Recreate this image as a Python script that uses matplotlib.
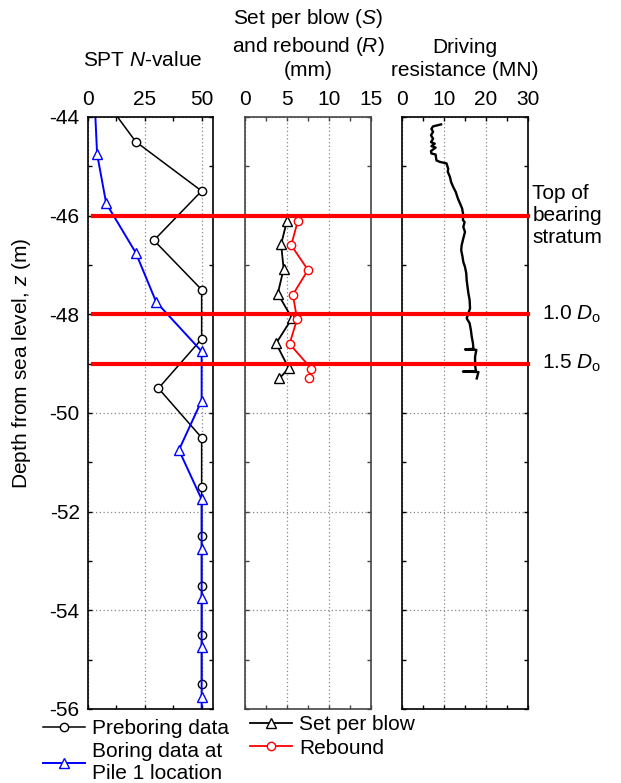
import matplotlib
matplotlib.use("Agg")
import matplotlib.pyplot as plt
from matplotlib.lines import Line2D
from matplotlib.ticker import MultipleLocator
import matplotlib.transforms as mtransforms

plt.rcParams['font.family'] = ['Liberation Sans', 'DejaVu Sans']
plt.rcParams['font.size'] = 15
plt.rcParams['mathtext.fontset'] = 'custom'
plt.rcParams['mathtext.rm'] = 'Liberation Sans'
plt.rcParams['mathtext.it'] = 'Liberation Sans:italic'


## Data

preboring_depth = [-43.5, -44.5, -45.5, -46.5, -47.5, -48.5, -49.5, -50.5, -51.5, -52.5, -53.5, -54.5, -55.5]
preboring_n = [5, 21, 50, 29, 50, 50, 31, 50, 50, 50, 50, 50, 50]

boring_depth = [-43.75, -44.75, -45.75, -46.75, -47.75, -48.75, -49.75, -50.75, -51.75, -52.75, -53.75, -54.75, -55.75, -56.75]
boring_n = [3, 4, 8, 21, 30, 50, 50, 40, 50, 50, 50, 50, 50, 50]

set_depth = [-46.1, -46.58, -47.08, -47.58, -48.08, -48.59, -49.09, -49.3]
set_mm = [5.0, 4.3, 4.6, 3.9, 5.6, 3.7, 5.2, 4.1]

rebound_depth = [-46.1, -46.6, -47.1, -47.6, -48.1, -48.6, -49.1, -49.3]
rebound_mm = [6.3, 5.5, 7.5, 5.7, 6.2, 5.3, 7.9, 7.6]

resistance_depth = [-44.15, -44.19, -44.24, -44.30, -44.37, -44.44, -44.51, -44.54, -44.59, -44.62,
	-44.69, -44.74, -44.76, -44.88, -44.91, -44.94, -45.05, -45.11, -45.21, -45.32,
	-45.42, -45.52, -45.65, -45.75, -45.85, -45.99, -46.09, -46.13, -46.23, -46.33,
	-46.46, -46.60, -46.70, -46.83, -46.94, -47.04, -47.17, -47.31, -47.44, -47.57,
	-47.71, -47.88, -47.98, -48.08, -48.18, -48.32, -48.45, -48.59, -48.70, -48.71,
	-48.72, -48.86, -49.03, -49.15, -49.16, -49.17, -49.30]
resistance_mn = [9.3, 7.4, 7.0, 7.4, 6.9, 7.4, 6.9, 7.8, 7.0, 8.0,
	6.9, 7.0, 8.0, 8.2, 9.0, 10.6, 11.0, 10.9, 11.4, 11.7,
	12.2, 12.8, 13.3, 13.8, 14.3, 14.6, 14.5, 14.9, 14.6, 15.0,
	14.6, 14.2, 14.1, 14.4, 14.6, 15.0, 15.3, 15.4, 15.6, 15.8,
	16.1, 16.2, 15.8, 15.4, 16.1, 16.4, 16.6, 16.9, 17.0, 15.0,
	17.7, 17.4, 17.4, 17.6, 14.5, 18.2, 17.8]

marker_lines = [-46.0, -48.0, -49.0]
marker_labels = ["Top of\nbearing\nstratum", "1.0 $D_\\mathrm{o}$", "1.5 $D_\\mathrm{o}$"]
marker_label_x = [31, 33.3, 33.3]


## Figure

W, H = 621, 783
fig = plt.figure(figsize = (W / 100, H / 100), dpi = 100)


def px_axes(x0, x1, y0, y1):
	return fig.add_axes([x0 / W, 1 - y1 / H, (x1 - x0) / W, (y1 - y0) / H])


def style(ax, xmax, major, minor, spine_color = 'black'):
	ax.set_xlim(0, xmax)
	ax.set_ylim(-56, -44)
	ax.xaxis.set_major_locator(MultipleLocator(major))
	ax.xaxis.set_minor_locator(MultipleLocator(minor))
	ax.yaxis.set_major_locator(MultipleLocator(2))
	ax.yaxis.set_minor_locator(MultipleLocator(1))
	ax.xaxis.tick_top()
	ax.tick_params(which = 'both', direction = 'in', top = True, bottom = True,
		left = True, right = True, length = 3, width = 1, color = spine_color)
	ax.tick_params(axis = 'x', which = 'major', pad = 6, labeltop = True, labelbottom = False)
	ax.tick_params(axis = 'y', pad = 6)
	ax.grid(True, which = 'major', color = '#888888', linestyle = (0, (1, 2)), linewidth = 0.9)
	for s in ax.spines.values():
		s.set_color(spine_color)
		s.set_linewidth(1.2)
	ax.xaxis.set_major_formatter(matplotlib.ticker.FormatStrFormatter('%d'))
	ax.yaxis.set_major_formatter(matplotlib.ticker.FormatStrFormatter('%d'))


ax1 = px_axes(88, 213, 117, 709)
ax2 = px_axes(245, 371, 117, 709)
ax3 = px_axes(402, 528, 117, 709)

style(ax1, 55, 25, 12.5)
style(ax2, 15, 5, 2.5, '#444444')
style(ax3, 30, 10, 5)
ax1.set_xticks([0, 25, 50])
ax2.tick_params(axis = 'y', labelleft = False)
ax3.tick_params(axis = 'y', labelleft = False)

# SPT N-value
ax1.plot(preboring_n, preboring_depth, color = 'black', linewidth = 1.1, marker = 'o',
	markersize = 6, markerfacecolor = 'white', markeredgecolor = 'black', markeredgewidth = 1)
ax1.plot(boring_n, boring_depth, color = 'blue', linewidth = 1.4, marker = '^',
	markersize = 7.5, markerfacecolor = 'white', markeredgecolor = 'blue', markeredgewidth = 1)

# set per blow and rebound
ax2.plot(set_mm, set_depth, color = 'black', linewidth = 1.3, marker = '^',
	markersize = 7.5, markerfacecolor = 'white', markeredgecolor = 'black', markeredgewidth = 1)
ax2.plot(rebound_mm, rebound_depth, color = 'red', linewidth = 1.3, marker = 'o',
	markersize = 6, markerfacecolor = 'white', markeredgecolor = 'red', markeredgewidth = 1)

# driving resistance
ax3.plot(resistance_mn, resistance_depth, color = 'black', linewidth = 1.7)

# red reference lines across all panels
tr = mtransforms.blended_transform_factory(fig.transFigure, ax1.transData)
for d, lab, lx in zip(marker_lines, marker_labels, marker_label_x):
	fig.add_artist(Line2D([93 / W, 528 / W], [d, d], transform = tr, color = 'red', linewidth = 3, zorder = 5))
	ax3.text(lx, d, lab, ha = 'left', va = 'center', clip_on = False, linespacing = 1.2)

# titles
fig.text(143 / W, 1 - 61 / H, "SPT $N$-value", ha = 'center', va = 'center')
fig.text(308 / W, 1 - 44 / H, "Set per blow ($S$)\nand rebound ($R$)\n(mm)", ha = 'center', va = 'center', linespacing = 1.25)
fig.text(465 / W, 1 - 59 / H, "Driving\nresistance (MN)", ha = 'center', va = 'center', linespacing = 1.25)
fig.text(22 / W, 1 - 363 / H, "Depth from sea level, $z$ (m)", ha = 'center', va = 'center', rotation = 90)

# legends
h1 = [Line2D([], [], color = 'black', linewidth = 1.1, marker = 'o', markersize = 6,
		markerfacecolor = 'white', markeredgecolor = 'black'),
	Line2D([], [], color = 'blue', linewidth = 1.4, marker = '^', markersize = 7.5,
		markerfacecolor = 'white', markeredgecolor = 'blue')]
leg1 = fig.legend(h1, ["Preboring data", "Boring data at\nPile 1 location"], loc = 'upper left',
	bbox_to_anchor = (43 / W, 1 - 719 / H), frameon = False, borderpad = 0, borderaxespad = 0,
	handlelength = 2.0, handletextpad = 0.35, labelspacing = 0.2, numpoints = 1)
for t in leg1.get_texts():
	t.set_multialignment('center')

h2 = [Line2D([], [], color = 'black', linewidth = 1.3, marker = '^', markersize = 7.5,
		markerfacecolor = 'white', markeredgecolor = 'black'),
	Line2D([], [], color = 'red', linewidth = 1.3, marker = 'o', markersize = 6,
		markerfacecolor = 'white', markeredgecolor = 'red')]
fig.legend(h2, ["Set per blow", "Rebound"], loc = 'upper left',
	bbox_to_anchor = (250 / W, 1 - 715 / H), frameon = False, borderpad = 0, borderaxespad = 0,
	handlelength = 2.0, handletextpad = 0.35, labelspacing = 0.22, numpoints = 1)

fig.savefig("out.png", dpi = 100)
